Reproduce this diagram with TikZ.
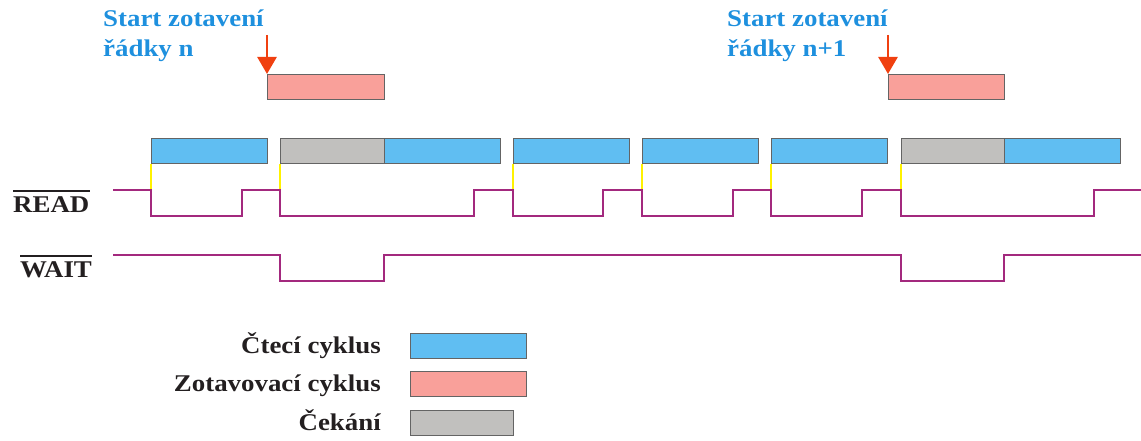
\documentclass[tikz,border=0pt]{standalone}
\usepackage{fontspec}
\setmainfont{Liberation Serif}[FakeStretch=1.12]
\usetikzlibrary{arrows.meta}

\definecolor{titleblue}{RGB}{30,144,222}
\definecolor{readfill}{RGB}{96,190,242}
\definecolor{recfill}{RGB}{249,160,154}
\definecolor{waitfill}{RGB}{193,192,190}
\definecolor{boxline}{RGB}{100,100,100}
\definecolor{sigcol}{RGB}{163,41,126}
\definecolor{arrowred}{RGB}{240,64,16}
\definecolor{labeltext}{RGB}{35,31,32}

\tikzset{
  cyc/.style={draw=boxline, line width=1.3pt, inner sep=0pt, minimum height=25pt, anchor=north west},
  rd/.style={cyc, fill=readfill},
  rec/.style={cyc, fill=recfill},
  wt/.style={cyc, fill=waitfill},
  sig/.style={draw=sigcol, line width=2.4pt, line join=miter},
  strobe/.style={draw=yellow, line width=2pt},
  startarrow/.style={draw=arrowred, line width=2.6pt, -{Triangle[length=17pt, width=19pt]}},
  title/.style={text=titleblue, font=\fontsize{24}{30}\selectfont\bfseries, inner sep=0pt, anchor=base west},
  siglabel/.style={text=labeltext, font=\fontsize{24}{30}\selectfont\bfseries, inner sep=0pt, anchor=base west},
  legtext/.style={text=labeltext, font=\fontsize{24}{30}\selectfont\bfseries, inner sep=0pt, anchor=base east},
  bar/.style={draw=labeltext, line width=2pt}
}

% box from x1 to x2 with its top edge at y
\newcommand{\cycbox}[5]{\node[#2, minimum width={(#4)-(#3)}] (#1) at (#3,#5) {};}

\begin{document}
\begin{tikzpicture}[x=1pt, y=-1pt]
\useasboundingbox (0,0) rectangle (1141,441);

% titles
\node[title] (t1a) at (103,27) {Start zotavení};
\node[title] (t1b) at (103,57) {řádky n};
\node[title] (t2a) at (727,27) {Start zotavení};
\node[title] (t2b) at (727,57) {řádky n+1};

% refresh cycles
\cycbox{z1}{rec}{267}{384}{74}
\cycbox{z2}{rec}{888}{1004}{74}

% start markers
\coordinate (s1) at (267,35);
\coordinate (s2) at (888,35);
\draw[startarrow] (s1) -- (z1.north west);
\draw[startarrow] (s2) -- (z2.north west);

% bus cycles
\cycbox{b1}{rd}{151}{267}{138}
\cycbox{w1}{wt}{280}{384}{138}
\cycbox{b2}{rd}{384}{500}{138}
\cycbox{b3}{rd}{513}{629}{138}
\cycbox{b4}{rd}{642}{758}{138}
\cycbox{b5}{rd}{771}{887}{138}
\cycbox{w2}{wt}{901}{1004}{138}
\cycbox{b6}{rd}{1004}{1120}{138}

% cycle starts down to READ
\foreach \n in {b1,w1,b3,b4,b5,w2}
  \draw[strobe] (\n.south west) -- ++(0,26);

% READ signal
\draw[sig] (113,190) -- (151,190) -- (151,216) -- (242,216) -- (242,190)
  -- (280,190) -- (280,216) -- (474,216) -- (474,190) -- (513,190)
  -- (513,216) -- (603,216) -- (603,190) -- (642,190) -- (642,216)
  -- (733,216) -- (733,190) -- (771,190) -- (771,216) -- (862,216)
  -- (862,190) -- (901,190) -- (901,216) -- (1094,216) -- (1094,190)
  -- (1141,190);

% WAIT signal
\draw[sig] (113,255) -- (280,255) -- (280,281) -- (384,281) -- (384,255)
  -- (901,255) -- (901,281) -- (1004,281) -- (1004,255) -- (1141,255);

% signal names (active low)
\node[siglabel] (lread) at (13,212) {READ};
\draw[bar] ([yshift=5pt]lread.north west) -- ([yshift=5pt]lread.north east);
\node[siglabel] (lwait) at (20,277) {WAIT};
\draw[bar] ([yshift=5pt]lwait.north west) -- ([yshift=5pt]lwait.north east);

% legend
\cycbox{k1}{rd}{410}{526}{333}
\cycbox{k2}{rec}{410}{526}{371}
\cycbox{k3}{wt}{410}{513}{410}
\node[legtext] (l1) at (381,353) {Čtecí cyklus};
\node[legtext] (l2) at (381,391) {Zotavovací cyklus};
\node[legtext] (l3) at (381,430) {Čekání};
\end{tikzpicture}
\end{document}
